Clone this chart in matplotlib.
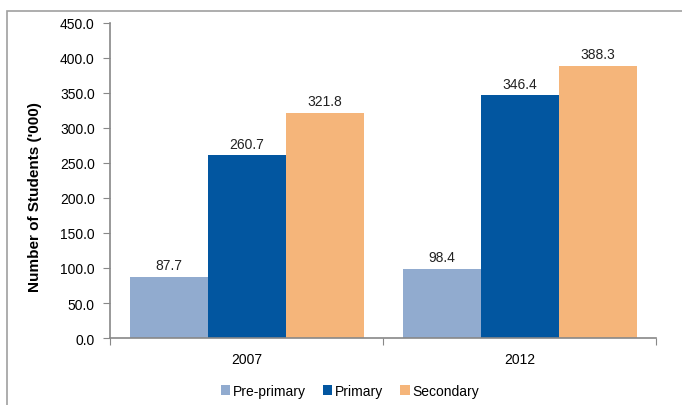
import matplotlib.pyplot as plt
from matplotlib.patches import Rectangle
import numpy as np

plt.rcParams['font.family'] = ['Liberation Sans', 'DejaVu Sans']

years = ["2007", "2012"]
series = ["Pre-primary", "Primary", "Secondary"]
pre_primary = [87.7, 98.4]
primary = [260.7, 346.4]
secondary = [321.8, 388.3]
colors = ["#91ABCF", "#0256A0", "#F5B57A"]

fig = plt.figure(figsize=(6.82, 4.06), dpi=100)
ax = fig.add_axes([0.1613, 0.165, 0.8006, 0.776])

# outer frame (cut off at right/bottom like the source)
fig.patches.append(Rectangle((7 / 682, -0.1), 2, (406 - 12) / 406 + 0.1,
                             transform=fig.transFigure, fill=False,
                             edgecolor="#A0A0A0", linewidth=1.2))

x = np.arange(len(years))
w = 0.2857
for i, (name, vals) in enumerate(zip(series, [pre_primary, primary, secondary])):
    pos = x + (i - 1) * w
    ax.bar(pos, vals, width=w, color=colors[i], label=name)
    for px, v in zip(pos, vals):
        ax.text(px, v + 7, f"{v:.1f}", ha="center", va="bottom", fontsize=10, color="#222222")

ax.set_xlim(-0.5, 1.5)
ax.set_ylim(0, 450)
ax.set_yticks(np.arange(0, 451, 50))
ax.set_yticklabels([f"{v:.1f}" for v in np.arange(0, 451, 50)], fontsize=10)
ax.set_xticks([-0.5, 0.5, 1.5])
ax.set_xticklabels([])
ax.set_xticks(x, minor=True)
ax.set_xticklabels(years, minor=True, fontsize=10)
ax.tick_params(axis="x", which="minor", length=0, pad=10)
ax.tick_params(axis="x", which="major", length=5, color="#888888")
ax.tick_params(axis="y", length=5, color="#888888", pad=6)

for s in ["top", "right"]:
    ax.spines[s].set_visible(False)
for s in ["left", "bottom"]:
    ax.spines[s].set_color("#888888")
    ax.spines[s].set_linewidth(1.2)

ax.set_ylabel("Number of Students ('000)", fontsize=11, fontweight="bold")
ax.yaxis.set_label_coords(-0.124, 0.449)

fig.legend(loc="center", bbox_to_anchor=(350 / 682, 1 - 392 / 406), ncol=3,
           frameon=False, fontsize=10, handlelength=0.7, handleheight=0.7,
           handletextpad=0.2, columnspacing=1.2)

fig.savefig("out.png", dpi=100)
